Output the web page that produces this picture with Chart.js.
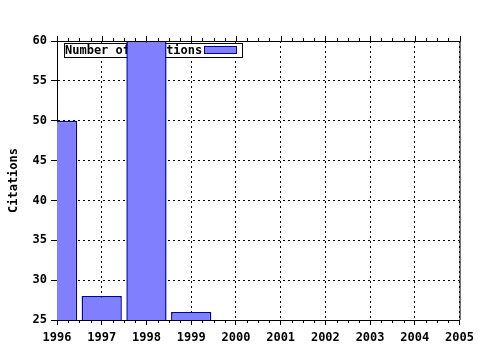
<!DOCTYPE html>
<html>
<head>
<meta charset="utf-8">
<script src="https://cdn.jsdelivr.net/npm/chart.js@4/dist/chart.umd.min.js"></script>
<style>
html,body{margin:0;padding:0;background:#fff;}
#wrap{width:480px;height:350px;}
</style>
</head>
<body>
<div id="wrap"><canvas id="c" width="480" height="350"></canvas></div>
<script>
const years = [1996, 1997, 1998, 1999];
const citations = [50, 28, 60, 26];
const seriesName = "Number of citations";
const yTitle = "Citations";
const xMin = 1996, xMax = 2005;
const yMin = 25, yMax = 60, yStep = 5;

const FONT = "'DejaVu Sans Mono', 'Liberation Mono', monospace";
const fill = "#8080ff";
const edge = "#0000a8";

const framePlugin = {
  id: "frame",
  beforeDatasetsDraw(chart) {
    const ctx = chart.ctx, a = chart.chartArea;
    ctx.save();
    ctx.font = "bold 12px " + FONT;
    const lx = a.left + 7, ly = a.top + 2;
    const w = 178, h = 14;
    ctx.fillStyle = "#fff";
    ctx.fillRect(lx, ly, w, h);
    ctx.strokeStyle = "#000";
    ctx.lineWidth = 1;
    ctx.strokeRect(lx + 0.5, ly + 0.5, w, h);
    ctx.fillStyle = "#000";
    ctx.textBaseline = "middle";
    ctx.fillText(seriesName, lx + 1, ly + h / 2 + 1);
    ctx.fillStyle = fill;
    ctx.fillRect(lx + 140, ly + 4, 32, 7);
    ctx.strokeStyle = edge;
    ctx.strokeRect(lx + 140.5, ly + 3.5, 32, 7);
    ctx.restore();
  },
  afterDraw(chart) {
    const ctx = chart.ctx, a = chart.chartArea, xs = chart.scales.x;
    ctx.save();
    ctx.strokeStyle = "#000";
    ctx.lineWidth = 1;
    ctx.beginPath();
    ctx.moveTo(a.left, a.top + 0.5); ctx.lineTo(a.right + 1, a.top + 0.5);
    ctx.moveTo(a.right + 0.5, a.top); ctx.lineTo(a.right + 0.5, a.bottom);
    for (let v = xMin; v <= xMax + 1e-9; v += 0.25) {
      const px = Math.round(xs.getPixelForValue(v)) + 0.5;
      const major = Math.abs(v - Math.round(v)) < 1e-6;
      ctx.moveTo(px, a.top); ctx.lineTo(px, a.top - (major ? 5 : 3));
      if (!major) { ctx.moveTo(px, a.bottom); ctx.lineTo(px, a.bottom + 3); }
    }
    ctx.stroke();
    ctx.restore();
  }
};

new Chart(document.getElementById("c"), {
  type: "bar",
  data: {
    datasets: [{
      label: seriesName,
      data: years.map((y, i) => ({ x: y, y: citations[i] })),
      backgroundColor: fill,
      borderColor: edge,
      borderWidth: 1.5,
      borderSkipped: false,
      barPercentage: 0.9,
      categoryPercentage: 1.0
    }]
  },
  options: {
    responsive: false,
    animation: false,
    devicePixelRatio: 1,
    layout: { padding: { top: 41, right: 20, left: 0, bottom: 0 } },
    plugins: { legend: { display: false }, tooltip: { enabled: false } },
    scales: {
      x: {
        type: "linear",
        min: xMin, max: xMax,
        offset: false,
        afterFit(s) { s.height = 30; },
        ticks: { stepSize: 1, color: "#000", font: { family: FONT, size: 12, weight: "bold" }, padding: 6, maxRotation: 0, autoSkip: false, callback: v => String(v) },
        grid: { offset: false, color: "#000", lineWidth: 1, drawTicks: true, tickLength: 5, tickColor: "#000", tickBorderDash: [] },
        border: { display: true, color: "#000", width: 1, dash: [2, 3] }
      },
      y: {
        min: yMin, max: yMax,
        afterFit(s) { s.width = 57; },
        ticks: { stepSize: yStep, color: "#000", font: { family: FONT, size: 12, weight: "bold" }, padding: 4 },
        title: { display: true, text: yTitle, color: "#000", font: { family: FONT, size: 12, weight: "bold" }, padding: { top: 7, bottom: 0 } },
        grid: { color: "#000", lineWidth: 1, drawTicks: true, tickLength: 6, tickColor: "#000", tickBorderDash: [] },
        border: { display: true, color: "#000", width: 1, dash: [2, 3] }
      }
    }
  },
  plugins: [framePlugin]
});
</script>
</body>
</html>
